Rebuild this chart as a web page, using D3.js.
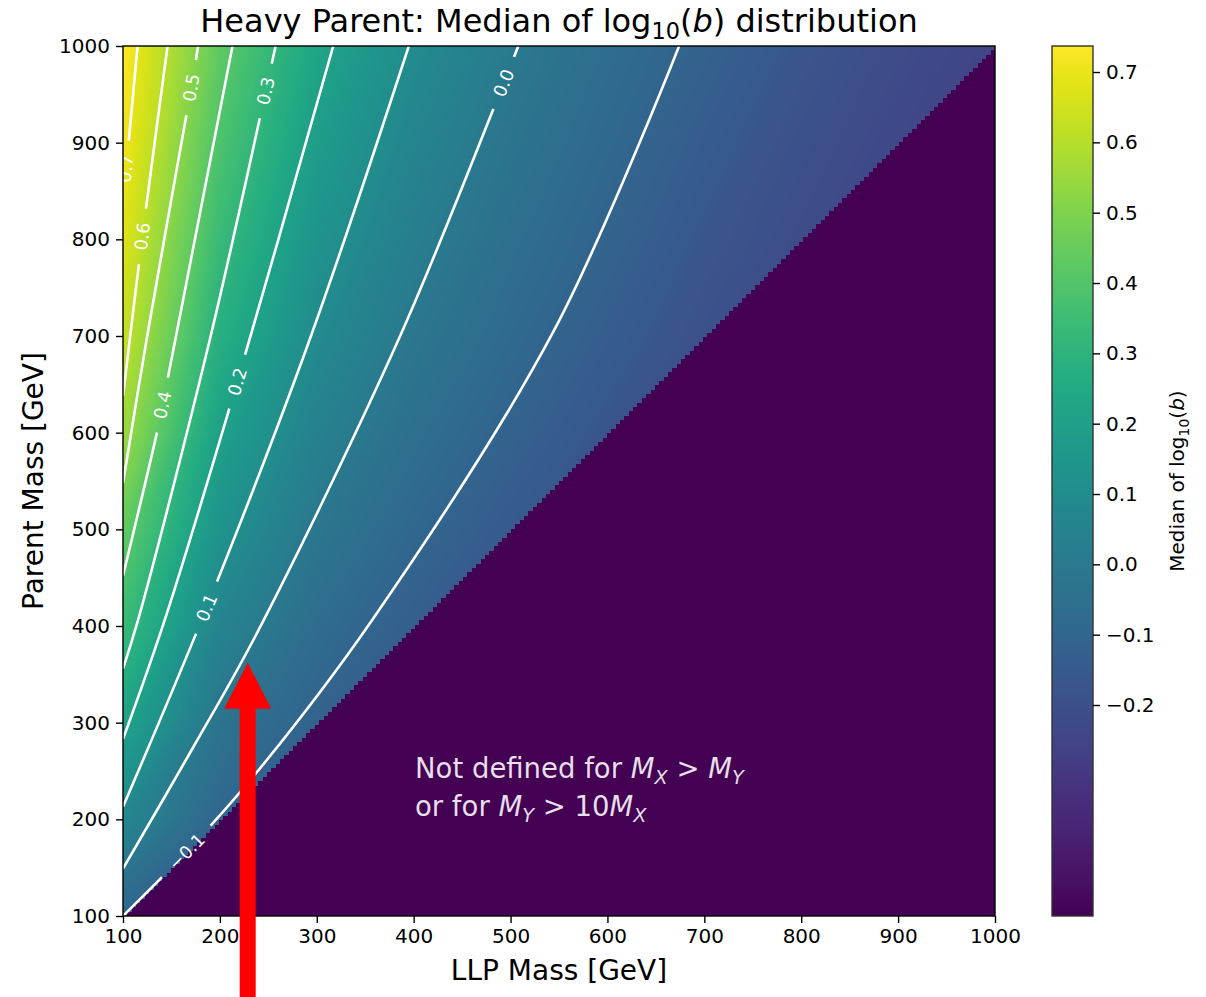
<!DOCTYPE html>
<html>
<head>
<meta charset="utf-8">
<script src="https://cdn.jsdelivr.net/npm/d3@7"></script>
<style>
  body { margin: 0; background: #fff; }
  svg { display: block; font-family: "DejaVu Sans", sans-serif; }
</style>
</head>
<body>
<svg id="chart" width="1206" height="997"></svg>
<script>
// grid nodes (GeV): LLP mass along x, parent mass along y
const llpMass = [100, 200, 300, 400, 500, 600, 700, 800, 900, 1000];
const parentMass = [100, 200, 300, 400, 500, 600, 700, 800, 900, 1000];
// median of log10(b) per parent-mass row, only for LLP mass <= parent mass
const medianRows = [
  [-0.100],
  [0.073, -0.100],
  [0.219, -0.028, -0.115],
  [0.340, 0.058, -0.065, -0.135],
  [0.443, 0.133, -0.014, -0.091, -0.155],
  [0.556, 0.203, 0.040, -0.052, -0.115, -0.175],
  [0.631, 0.277, 0.090, -0.012, -0.079, -0.140, -0.195],
  [0.679, 0.336, 0.136, 0.023, -0.053, -0.110, -0.170, -0.215],
  [0.715, 0.388, 0.183, 0.059, -0.025, -0.086, -0.145, -0.196, -0.235],
  [0.737, 0.432, 0.226, 0.095, 0.004, -0.063, -0.117, -0.173, -0.216, -0.250]
];

// white contour lines, [LLP mass, parent mass]
const contourLevels = [-0.1, 0.0, 0.1, 0.2, 0.3, 0.4, 0.5, 0.6, 0.7];
const contourLines = [
  [[100, 100], [165.7, 166.5], [240, 251], [357, 406], [545, 706], [674, 1000]],
  [[100, 149], [171, 272], [240, 396], [386, 700], [482, 934], [493, 961.7], [508, 1000]],
  [[100, 213], [186.3, 419], [294, 700], [395, 1000]],
  [[100, 283], [143, 406], [218, 652.7], [317, 1000]],
  [[100, 356], [115.5, 406], [190.5, 700], [247.4, 953.5], [257.5, 1000]],
  [[100, 452], [134.8, 599], [140.8, 628.5], [154, 696], [213, 1000]],
  [[100, 548], [126, 706], [170.5, 957], [177.5, 1000]],
  [[100, 638], [120, 803], [146, 1000]],
  [[100, 845], [106, 903], [115, 1000]]
];
const labelAnchors = [[165.7, 166.5], [493, 961.7], [186.3, 419], [218, 652.7], [247.4, 953.5], [140.8, 628.5], [170.5, 957], [120, 803], [104, 873]];

const axisTicks = [100, 200, 300, 400, 500, 600, 700, 800, 900, 1000];
const colorbarTicks = [-0.2, -0.1, 0.0, 0.1, 0.2, 0.3, 0.4, 0.5, 0.6, 0.7];
const colorDomain = [-0.5, 0.737];
const arrowTip = [228.7, 362];

const svg = d3.select("#chart");
const plot = { left: 123, right: 995, top: 46, bottom: 916 };
const x = d3.scaleLinear().domain([100, 1000]).range([plot.left, plot.right]);
const y = d3.scaleLinear().domain([100, 1000]).range([plot.bottom, plot.top]);

// value inside the grid: each cell split along its diagonal into two triangles
function medianAt(mx, my) {
  const step = llpMass[1] - llpMass[0];
  let j = Math.min(Math.floor((my - parentMass[0]) / step), parentMass.length - 2);
  let i = Math.min(Math.floor((mx - llpMass[0]) / step), j);
  const u = (mx - llpMass[i]) / step, w = (my - parentMass[j]) / step;
  const n = (a, b) => medianRows[b][a];
  if (w >= u || i === j) {
    return n(i, j) + (n(i + 1, j + 1) - n(i, j + 1)) * u + (n(i, j + 1) - n(i, j)) * w;
  }
  return n(i, j) + (n(i + 1, j) - n(i, j)) * u + (n(i + 1, j + 1) - n(i + 1, j)) * w;
}

// heatmap raster
const pw = plot.right - plot.left, ph = plot.bottom - plot.top;
const canvas = document.createElement("canvas");
canvas.width = pw; canvas.height = ph;
const ctx = canvas.getContext("2d");
const img = ctx.createImageData(pw, ph);
const lut = d3.range(1024).map(k => d3.rgb(d3.interpolateViridis(k / 1023)));
const masked = d3.rgb(d3.interpolateViridis(0));
const cell = 4.5;
for (let py = 0; py < ph; py++) {
  const my = y.invert(plot.top + py + 0.5);
  for (let px = 0; px < pw; px++) {
    const mx = x.invert(plot.left + px + 0.5);
    let c = masked;
    if (Math.floor((my - 100) / cell) >= Math.floor((mx - 100) / cell)) {
      const t = (medianAt(mx, my) - colorDomain[0]) / (colorDomain[1] - colorDomain[0]);
      c = lut[Math.max(0, Math.min(1023, Math.round(t * 1023)))];
    }
    const o = (py * pw + px) * 4;
    img.data[o] = c.r; img.data[o + 1] = c.g; img.data[o + 2] = c.b; img.data[o + 3] = 255;
  }
}
ctx.putImageData(img, 0, 0);

const defs = svg.append("defs");
defs.append("clipPath").attr("id", "plotClip")
  .append("rect").attr("x", plot.left).attr("y", plot.top).attr("width", pw).attr("height", ph);

svg.append("image")
  .attr("x", plot.left).attr("y", plot.top)
  .attr("width", pw).attr("height", ph)
  .attr("href", canvas.toDataURL());

// contour labels first so their length can be measured for the gaps
const fmt = d3.format(".1f");
const labelLayer = svg.append("g").attr("clip-path", "url(#plotClip)");
const gaps = [];
contourLevels.forEach((lev, k) => {
  const pts = contourLines[k].map(p => [x(p[0]), y(p[1])]);
  const a = [x(labelAnchors[k][0]), y(labelAnchors[k][1])];
  let best = null;
  for (let s = 0; s < pts.length - 1; s++) {
    const [x0, y0] = pts[s], [x1, y1] = pts[s + 1];
    const dx = x1 - x0, dy = y1 - y0;
    const t = Math.max(0, Math.min(1, ((a[0] - x0) * dx + (a[1] - y0) * dy) / (dx * dx + dy * dy)));
    const qx = x0 + t * dx, qy = y0 + t * dy;
    const d = Math.hypot(a[0] - qx, a[1] - qy);
    if (!best || d < best.d) best = { d, qx, qy, ang: Math.atan2(dy, dx) * 180 / Math.PI };
  }
  let ang = best.ang;
  if (ang > 90) ang -= 180;
  if (ang < -90) ang += 180;
  const txt = labelLayer.append("text")
    .attr("transform", `translate(${best.qx},${best.qy}) rotate(${ang})`)
    .attr("text-anchor", "middle")
    .attr("dy", "0.35em")
    .attr("font-size", 17.6)
    .attr("fill", "#fff")
    .text(fmt(lev));
  gaps.push({ cx: best.qx, cy: best.qy, ang, len: txt.node().getComputedTextLength() + 28 });
});

const mask = defs.append("mask").attr("id", "labelGaps").attr("maskUnits", "userSpaceOnUse")
  .attr("x", 0).attr("y", 0).attr("width", 1206).attr("height", 997);
mask.append("rect").attr("width", 1206).attr("height", 997).attr("fill", "#fff");
gaps.forEach(g => {
  mask.append("rect")
    .attr("x", -g.len / 2).attr("y", -9).attr("width", g.len).attr("height", 18)
    .attr("transform", `translate(${g.cx},${g.cy}) rotate(${g.ang})`)
    .attr("fill", "#000");
});

const line = d3.line().x(p => x(p[0])).y(p => y(p[1])).curve(d3.curveCatmullRom);
svg.append("g").attr("clip-path", "url(#plotClip)")
  .append("g").attr("mask", "url(#labelGaps)")
  .selectAll("path").data(contourLines).join("path")
  .attr("d", line)
  .attr("fill", "none")
  .attr("stroke", "#fff")
  .attr("stroke-width", 2.6);

labelLayer.raise();

// note in the undefined region
function mathLine(sel, parts, size) {
  parts.forEach(p => {
    const t = sel.append("tspan").text(p.t);
    if (p.it) t.attr("font-style", "italic");
    if (p.sub) t.attr("font-size", size * 0.7).attr("dy", size * 0.22);
    if (p.up) t.attr("dy", -size * 0.22);
  });
}
const noteSize = 27.5;
const note = svg.append("g").attr("fill", "#fff").attr("fill-opacity", 0.88).attr("font-size", noteSize);
mathLine(note.append("text").attr("x", 415).attr("y", 778),
  [{ t: "Not defined for " }, { t: "M", it: 1 }, { t: "X", it: 1, sub: 1 }, { t: " > ", up: 1 }, { t: "M", it: 1 }, { t: "Y", it: 1, sub: 1 }], noteSize);
mathLine(note.append("text").attr("x", 415).attr("y", 816),
  [{ t: "or for " }, { t: "M", it: 1 }, { t: "Y", it: 1, sub: 1 }, { t: " > 10", up: 1 }, { t: "M", it: 1 }, { t: "X", it: 1, sub: 1 }], noteSize);

// frame and axes
svg.append("rect")
  .attr("x", plot.left).attr("y", plot.top).attr("width", pw).attr("height", ph)
  .attr("fill", "none").attr("stroke", "#000").attr("stroke-width", 1.4);

const tickFont = 20;
function styleAxis(g) {
  g.select(".domain").remove();
  g.selectAll(".tick line").attr("stroke", "#000").attr("stroke-width", 1.4);
  g.selectAll(".tick text").attr("fill", "#000").attr("font-size", tickFont)
    .attr("font-family", '"DejaVu Sans", sans-serif');
}
svg.append("g").attr("transform", `translate(0,${plot.bottom})`)
  .call(d3.axisBottom(x).tickValues(axisTicks).tickFormat(d3.format("d")).tickSize(7).tickPadding(6))
  .call(styleAxis);
svg.append("g").attr("transform", `translate(${plot.left},0)`)
  .call(d3.axisLeft(y).tickValues(axisTicks).tickFormat(d3.format("d")).tickSize(7).tickPadding(6))
  .call(styleAxis);

svg.append("text")
  .attr("x", (plot.left + plot.right) / 2).attr("y", 980)
  .attr("text-anchor", "middle").attr("font-size", 28)
  .text("LLP Mass [GeV]");
svg.append("text")
  .attr("transform", `translate(43,${(plot.top + plot.bottom) / 2}) rotate(-90)`)
  .attr("text-anchor", "middle").attr("font-size", 28)
  .text("Parent Mass [GeV]");

const title = svg.append("text")
  .attr("x", (plot.left + plot.right) / 2).attr("y", 32)
  .attr("text-anchor", "middle").attr("font-size", 32);
title.append("tspan").text("Heavy Parent: Median of log");
title.append("tspan").attr("font-size", 22.4).attr("dy", 7).text("10");
title.append("tspan").attr("dy", -7).text("(");
title.append("tspan").attr("font-style", "italic").text("b");
title.append("tspan").text(") distribution");

// colorbar
const cb = { left: 1052, width: 41 };
const cbScale = d3.scaleLinear().domain(colorDomain).range([plot.bottom, plot.top]);
const grad = defs.append("linearGradient").attr("id", "viridisGrad")
  .attr("x1", 0).attr("y1", 1).attr("x2", 0).attr("y2", 0);
d3.range(0, 1.0001, 0.02).forEach(t => {
  grad.append("stop").attr("offset", t).attr("stop-color", d3.interpolateViridis(t));
});
svg.append("rect")
  .attr("x", cb.left).attr("y", plot.top).attr("width", cb.width).attr("height", ph)
  .attr("fill", "url(#viridisGrad)").attr("stroke", "#333").attr("stroke-width", 1.4);
svg.append("g").attr("transform", `translate(${cb.left + cb.width},0)`)
  .call(d3.axisRight(cbScale).tickValues(colorbarTicks).tickFormat(fmt).tickSize(7).tickPadding(6))
  .call(styleAxis);

const cbLabel = svg.append("text")
  .attr("transform", `translate(1184,${(plot.top + plot.bottom) / 2}) rotate(-90)`)
  .attr("text-anchor", "middle").attr("font-size", 20);
cbLabel.append("tspan").text("Median of log");
cbLabel.append("tspan").attr("font-size", 14).attr("dy", 4.5).text("10");
cbLabel.append("tspan").attr("dy", -4.5).text("(");
cbLabel.append("tspan").attr("font-style", "italic").text("b");
cbLabel.append("tspan").text(")");

// red arrow pointing at the curve
const tx = x(arrowTip[0]), ty = y(arrowTip[1]);
const headLen = 46, headHalf = 23.5, shaftHalf = 8;
svg.append("path")
  .attr("d", `M${tx},${ty} L${tx + headHalf},${ty + headLen} L${tx + shaftHalf},${ty + headLen}
    L${tx + shaftHalf},997 L${tx - shaftHalf},997 L${tx - shaftHalf},${ty + headLen}
    L${tx - headHalf},${ty + headLen} Z`)
  .attr("fill", "#ff0000");
</script>
</body>
</html>
